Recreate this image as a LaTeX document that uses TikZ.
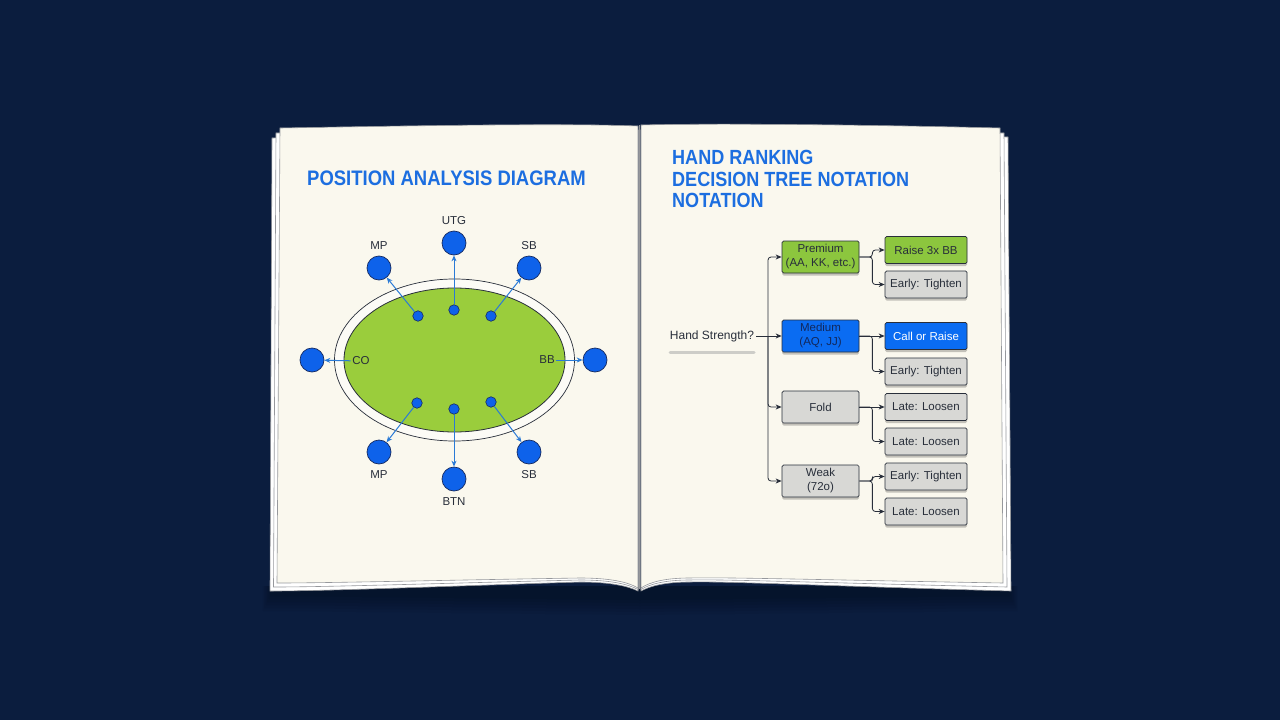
\documentclass[tikz,border=0pt]{standalone}
\usepackage{fontspec}
\setmainfont{Liberation Sans}
\newfontfamily\titlefont[FakeStretch=0.88]{Liberation Sans}
\usetikzlibrary{arrows.meta,shadows}

\definecolor{navy}{RGB}{11,29,62}
\definecolor{paper}{RGB}{250,248,238}
\definecolor{rim}{RGB}{252,251,246}
\definecolor{pageline}{RGB}{150,152,156}
\definecolor{titleblue}{RGB}{28,110,224}
\definecolor{felt}{RGB}{154,205,60}
\definecolor{seatblue}{RGB}{14,98,234}
\definecolor{seatedge}{RGB}{22,42,96}
\definecolor{arrowblue}{RGB}{42,122,214}
\definecolor{inkdark}{RGB}{40,46,58}
\definecolor{inknavy}{RGB}{18,40,92}
\definecolor{boxgreen}{RGB}{140,198,62}
\definecolor{boxblue}{RGB}{10,108,242}
\definecolor{boxgray}{RGB}{216,216,213}
\definecolor{bargray}{RGB}{205,205,200}

\tikzset{
  ttl/.style={font=\titlefont\bfseries\fontsize{21}{21.5}\selectfont, text=titleblue, inner sep=0pt},
  seat/.style={circle, fill=seatblue, draw=seatedge, line width=0.7pt, minimum size=24pt, inner sep=0pt},
  chip/.style={circle, fill=seatblue, draw=seatedge, line width=0.6pt, minimum size=10.5pt, inner sep=0pt},
  seatlabel/.style={font=\fontsize{11.5}{12}\selectfont, text=inkdark, inner sep=1.5pt},
  seatarrow/.style={draw=arrowblue, line width=1pt, -{Stealth[length=6pt,width=5pt]}},
  choice/.style={draw=inkdark, line width=0.7pt, rounded corners=1.5pt, minimum width=77pt, minimum height=32pt,
    align=center, inner sep=1pt, font=\fontsize{11.5}{14}\selectfont, text=inkdark,
    drop shadow={shadow xshift=0pt, shadow yshift=-2.5pt, opacity=.22, fill=black}},
  action/.style={choice, minimum width=82pt, minimum height=27pt},
  treeline/.style={draw=inkdark, line width=0.8pt, rounded corners=3pt, -{Stealth[length=6pt,width=5pt]}},
  leaf/.style={fill=white, draw=pageline, line width=0.6pt},
}

\begin{document}
\begin{tikzpicture}[x=1pt,y=-1pt]
  \useasboundingbox (0,0) rectangle (1280,720);
  \fill[navy] (0,0) rectangle (1280,720);

  % shadow under the book
  \foreach \s in {0,3,...,15}
    \fill[black, opacity=.045] (270-\s/2,586) -- (1010+\s/2,586) -- (1010+\s/2,596+\s) -- (640,600+\s) -- (270-\s/2,596+\s) -- cycle;

  % page stacks
  \foreach \k in {2,1} {
    \filldraw[leaf] (280-4*\k,128+5*\k) -- (638,130) -- (638,588+1.5*\k)
      .. controls (628,582+2*\k) and (610,578+2*\k) .. (580,578+2*\k)
      .. controls (450,580+3*\k) and (330,583+4*\k) .. (277-3.5*\k,583+4*\k) -- cycle;
    \filldraw[leaf] (641,130) -- (1000+4*\k,129+4*\k) -- (1003+4*\k,583+4*\k)
      .. controls (830,580+3*\k) and (720,577+2*\k) .. (690,578+2*\k)
      .. controls (665,578+2*\k) and (650,582+2*\k) .. (641,588+1.5*\k) -- cycle;
  }
  \filldraw[fill=paper, draw=pageline, line width=0.6pt] (280,128) .. controls (400,126) and (560,123) .. (638,126)
    -- (638,588) .. controls (628,582) and (610,578) .. (580,578)
    .. controls (450,580) and (330,583) .. (277,583) -- cycle;
  \filldraw[fill=paper, draw=pageline, line width=0.6pt] (641,125) .. controls (720,123) and (880,125) .. (1000,128)
    -- (1003,583) .. controls (830,580) and (720,577) .. (690,578)
    .. controls (665,578) and (650,582) .. (641,588) -- cycle;
  \draw[pageline, line width=1.4pt] (639.5,125) -- (639.5,589);

  % left page
  \node[ttl, anchor=west] (postitle) at (307,178.5) {POSITION ANALYSIS DIAGRAM};

  \draw[draw=inkdark, line width=0.7pt, fill=rim] (454.5,360) ellipse [x radius=120, y radius=81];
  \draw[draw=inkdark, line width=0.8pt, fill=felt] (454.5,360) ellipse [x radius=110.5, y radius=72];

  \foreach \n/\x/\y/\t/\s in {utg/454/243/UTG/above, mpa/379/268/MP/above, sba/529/268/SB/above,
      mpb/379/452/MP/below, btn/454/479/BTN/below, sbb/529/452/SB/below}
    \node[seat, label={[seatlabel, label distance=4.5pt]\s:\t}] (\n) at (\x,\y) {};
  \node[seat] (co) at (312,360) {};
  \node[seat] (bb) at (595,360) {};

  \foreach \n/\x/\y in {cutg/454/310, cmpa/418/316, csba/491/316, cmpb/417/403, cbtn/454/409, csbb/491/402}
    \node[chip] (\n) at (\x,\y) {};

  \node[seatlabel] (colbl) at (361,361) {CO};
  \node[seatlabel] (bblbl) at (547,360) {BB};

  \draw[seatarrow] (cutg) -- (utg);
  \draw[seatarrow] (cmpa) -- (mpa);
  \draw[seatarrow] (csba) -- (sba);
  \draw[seatarrow] (cmpb) -- (mpb);
  \draw[seatarrow] (cbtn) -- (btn);
  \draw[seatarrow] (csbb) -- (sbb);
  \draw[seatarrow] (colbl) -- (co);
  \draw[seatarrow] (bblbl) -- (bb);

  % right page
  \node[ttl, anchor=north west, align=left, font=\titlefont\bfseries\fontsize{20.5}{21.5}\selectfont] (treetitle) at (672,150)
    {HAND RANKING\\DECISION TREE NOTATION\\NOTATION};

  \node[seatlabel, font=\fontsize{12}{14}\selectfont, inner sep=2pt] (strength) at (712,336) {Hand Strength?};
  \draw[draw=bargray, line width=3pt, line cap=round] (670,352.5) -- (754,352.5);

  \node[choice, fill=boxgreen] (premium) at (820.5,257) {Premium\\(AA, KK, etc.)};
  \node[choice, fill=boxblue, text=inknavy] (medium) at (820.5,336) {Medium\\(AQ, JJ)};
  \node[choice, fill=boxgray] (fold) at (820.5,407) {Fold};
  \node[choice, fill=boxgray] (weak) at (820.5,481) {Weak\\(72o)};

  \node[action, fill=boxgreen] (raise) at (926,250) {Raise 3x BB};
  \node[action, fill=boxgray] (tightena) at (926,284.5) {Early: Tighten};
  \node[action, fill=boxblue, text=white] (call) at (926,336) {Call or Raise};
  \node[action, fill=boxgray] (tightenb) at (926,371.5) {Early: Tighten};
  \node[action, fill=boxgray] (loosena) at (926,407) {Late: Loosen};
  \node[action, fill=boxgray] (loosenb) at (926,441.5) {Late: Loosen};
  \node[action, fill=boxgray] (tightenc) at (926,476.5) {Early: Tighten};
  \node[action, fill=boxgray] (loosend) at (926,511.5) {Late: Loosen};

  \coordinate (trunk) at (768,336);
  \draw[treeline] (strength.east) -- (medium.west);
  \draw[treeline] (trunk) |- (premium.west);
  \draw[treeline] (trunk) |- (fold.west);
  \draw[treeline] (trunk) |- (weak.west);

  \draw[treeline] (premium.east) -- ++(13,0) |- (raise.west);
  \draw[treeline] (premium.east) -- ++(13,0) |- (tightena.west);
  \draw[treeline] (medium.east) -- (call.west);
  \draw[treeline] (medium.east) -- ++(13,0) |- (tightenb.west);
  \draw[treeline] (fold.east) -- (loosena.west);
  \draw[treeline] (fold.east) -- ++(13,0) |- (loosenb.west);
  \draw[treeline] (weak.east) -- ++(13,0) |- (tightenc.west);
  \draw[treeline] (weak.east) -- ++(13,0) |- (loosend.west);
\end{tikzpicture}
\end{document}
